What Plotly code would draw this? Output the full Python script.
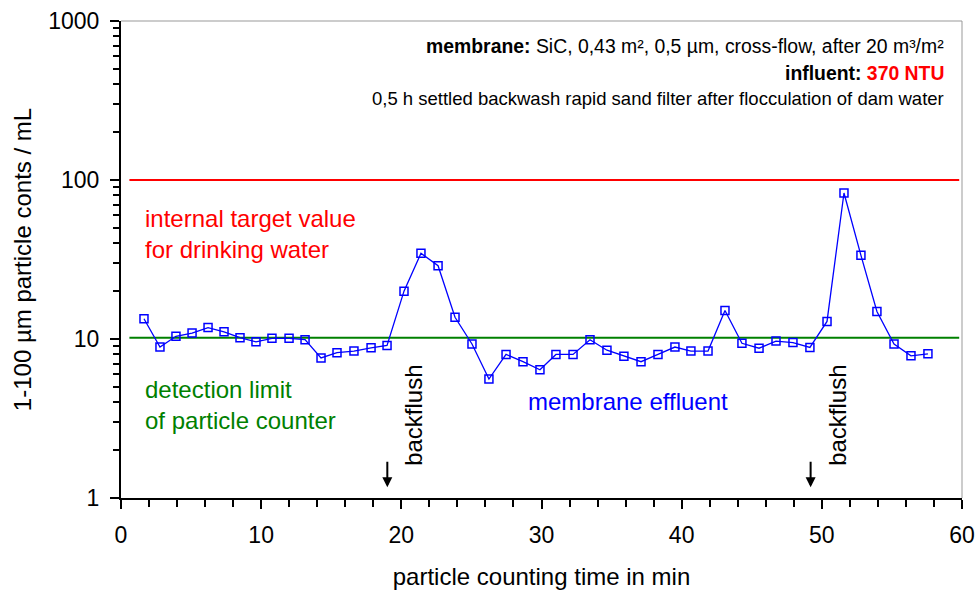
import plotly.graph_objects as go

# ---- data ----
time_min = [1.64, 2.78, 3.92, 5.07, 6.21, 7.35, 8.49, 9.63, 10.77, 11.99, 13.13, 14.27,
            15.41, 16.62, 17.84, 18.98, 20.19, 21.40, 22.62, 23.83, 25.04, 26.25, 27.47, 28.68,
            29.89, 31.03, 32.25, 33.46, 34.67, 35.88, 37.10, 38.31, 39.52, 40.66, 41.88, 43.09,
            44.30, 45.52, 46.73, 47.94, 49.15, 50.37, 51.58, 52.79, 53.93, 55.15, 56.36, 57.57]
particle_counts = [13.4, 8.9, 10.4, 10.9, 11.8, 11.1, 10.2, 9.6, 10.1, 10.1, 9.9, 7.6,
                   8.2, 8.4, 8.8, 9.1, 20.0, 34.6, 28.9, 13.7, 9.3, 5.6, 8.0, 7.2,
                   6.4, 8.0, 8.0, 9.9, 8.5, 7.8, 7.2, 8.0, 8.9, 8.4, 8.4, 15.1,
                   9.4, 8.75, 9.7, 9.5, 8.85, 12.9, 82.8, 33.6, 14.9, 9.3, 7.84, 8.07]
ref_line_x = [0.6, 59.8]
target_value = 100
detection_limit = 10.2
backflush_arrow_times = [19.0, 49.2]
backflush_label_times = [20.9, 51.15]
x_ticks = [0, 10, 20, 30, 40, 50, 60]
y_ticks = [1, 10, 100, 1000]
y_tick_labels = ["1", "10", "100", "1000"]
y_minor = [m * d for d in (1, 10, 100) for m in range(2, 10)]

FONT = "Liberation Sans, Arial, sans-serif"
BLUE = "#0000FF"
RED = "#FF0000"
GREEN = "#008000"

fig = go.Figure()

fig.add_trace(go.Scatter(x=ref_line_x, y=[target_value] * 2, mode="lines",
                         line=dict(color=RED, width=2), hoverinfo="skip", showlegend=False))
fig.add_trace(go.Scatter(x=ref_line_x, y=[detection_limit] * 2, mode="lines",
                         line=dict(color=GREEN, width=2), hoverinfo="skip", showlegend=False))
fig.add_trace(go.Scatter(x=time_min, y=particle_counts, mode="lines+markers",
                         line=dict(color=BLUE, width=1.3),
                         marker=dict(symbol="square-open", size=8, color=BLUE,
                                     line=dict(width=1.5, color=BLUE)),
                         showlegend=False))

def ylog(py):
    # convert a pixel row in the reference to a log10 axis position (for text placement)
    return 1 + (338.5 - py) / 159.2

annotations = [
    dict(x=1.6, y=ylog(233), xref="x", yref="y", text="internal target value<br>for drinking water",
         showarrow=False, xanchor="left", yanchor="middle", align="left",
         font=dict(family=FONT, size=24, color=RED)),
    dict(x=1.6, y=ylog(405), xref="x", yref="y", text="detection limit<br>of particle counter",
         showarrow=False, xanchor="left", yanchor="middle", align="left",
         font=dict(family=FONT, size=24, color=GREEN)),
    dict(x=36.2, y=ylog(401), xref="x", yref="y", text="membrane effluent",
         showarrow=False, xanchor="center", yanchor="middle",
         font=dict(family=FONT, size=24, color=BLUE)),
    dict(xref="paper", yref="paper", x=0.981, y=(498.3 - 46) / 477.6,
         text="<b>membrane:</b> SiC, 0,43 m², 0,5 µm, cross-flow, after 20 m³/m²",
         showarrow=False, xanchor="right", yanchor="middle",
         font=dict(family=FONT, size=19.4, color="black")),
    dict(xref="paper", yref="paper", x=0.981, y=(498.3 - 73) / 477.6,
         text="<b>influent: <span style='color:#FF0000'>370 NTU</span></b>",
         showarrow=False, xanchor="right", yanchor="middle",
         font=dict(family=FONT, size=19.4, color="black")),
    dict(xref="paper", yref="paper", x=0.981, y=(498.3 - 98) / 477.6,
         text="0,5 h settled backwash rapid sand filter after flocculation of dam water",
         showarrow=False, xanchor="right", yanchor="middle",
         font=dict(family=FONT, size=18.5, color="black")),
]
for t in backflush_label_times:
    annotations.append(dict(x=t, y=ylog(414.5), xref="x", yref="y", text="backflush",
                            textangle=-90, showarrow=False, xanchor="center", yanchor="middle",
                            font=dict(family=FONT, size=24, color="black")))
for t in backflush_arrow_times:
    annotations.append(dict(x=t, y=ylog(487), xref="x", yref="y", text="",
                            showarrow=True, ax=0, ay=-27, arrowhead=2, arrowsize=1,
                            arrowwidth=2, arrowcolor="black"))

fig.update_layout(
    width=979, height=592,
    margin=dict(l=121, r=17, t=21, b=94, autoexpand=False),
    paper_bgcolor="white", plot_bgcolor="white",
    font=dict(family=FONT, size=23, color="black"),
    annotations=annotations,
    shapes=[
        dict(type="line", xref="paper", yref="paper", x0=0, x1=1, y0=1, y1=1,
             line=dict(color="#999999", width=1)),
        dict(type="line", xref="paper", yref="paper", x0=1, x1=1, y0=0, y1=1,
             line=dict(color="#999999", width=1)),
    ],
    xaxis=dict(
        range=[0, 60], tickvals=x_ticks, ticks="outside", ticklen=9, tickwidth=1.5,
        tickcolor="black", showline=True, linecolor="black", linewidth=2,
        showgrid=False, zeroline=False, ticklabelstandoff=6,
        tickfont=dict(family=FONT, size=23),
        minor=dict(dtick=2, tick0=0, ticks="outside", ticklen=7, tickwidth=1.5,
                   tickcolor="black", showgrid=False),
        title=dict(text="particle counting time in min", standoff=22,
                   font=dict(family=FONT, size=24)),
    ),
    yaxis=dict(
        type="log", range=[0, 3], tickvals=y_ticks, ticktext=y_tick_labels,
        ticks="outside", ticklen=9, tickwidth=1.5, tickcolor="black",
        showline=True, linecolor="black", linewidth=2, showgrid=False, zeroline=False,
        ticklabelstandoff=6, tickfont=dict(family=FONT, size=23),
        minor=dict(tickvals=y_minor, ticks="outside", ticklen=6, tickwidth=1.5,
                   tickcolor="black", showgrid=False),
        title=dict(text="1-100 µm particle conts / mL", standoff=10,
                   font=dict(family=FONT, size=24)),
    ),
)

fig.write_html("out.html", config={"displayModeBar": False},
               post_script="document.body.style.margin='0';document.body.style.padding='0';")
